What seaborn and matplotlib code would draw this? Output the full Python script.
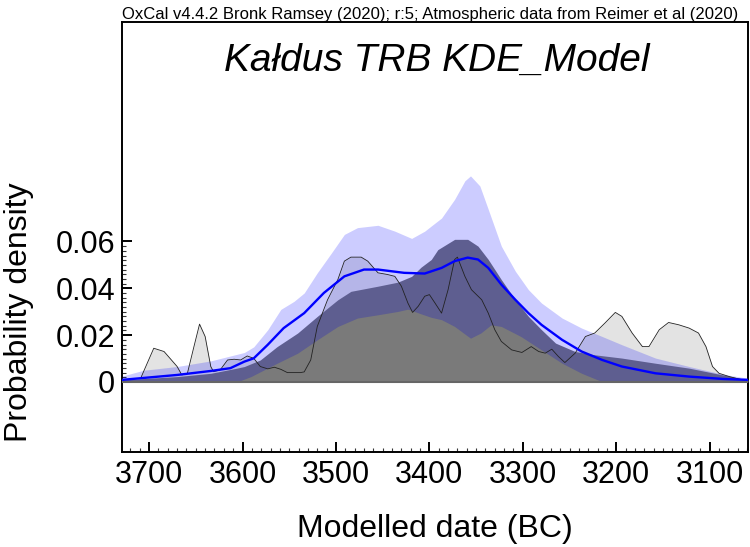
import matplotlib
matplotlib.use("Agg")
import matplotlib.pyplot as plt
from matplotlib import font_manager
from matplotlib.ticker import FixedLocator, FuncFormatter
import numpy as np
import pandas as pd
import seaborn as sns

# summed probability (light grey, thin outline)
sum_years = [3729, 3727, 3709, 3695, 3684, 3670, 3665, 3659, 3652, 3646, 3640, 3634,
             3631, 3624, 3616, 3609, 3602, 3595, 3588, 3581, 3573, 3566, 3559, 3552,
             3538, 3534, 3527, 3520, 3509, 3498, 3491, 3484, 3473, 3466, 3455, 3445,
             3437, 3430, 3423, 3418, 3412, 3405, 3400, 3394, 3387, 3380, 3373, 3370,
             3362, 3355, 3344, 3337, 3330, 3323, 3312, 3301, 3291, 3283, 3276, 3269,
             3262, 3255, 3244, 3233, 3223, 3212, 3201, 3194, 3183, 3172, 3165, 3154,
             3144, 3133, 3122, 3112, 3104, 3097, 3090, 3079, 3065, 3059]
sum_vals = [0.0008, 0.0009, 0.0016, 0.0144, 0.0130, 0.0066, 0.0030, 0.0037, 0.0151, 0.0247, 0.0194, 0.0066,
            0.0044, 0.0051, 0.0094, 0.0097, 0.0094, 0.0111, 0.0101, 0.0066, 0.0056, 0.0063, 0.0054, 0.0040,
            0.0040, 0.0043, 0.0094, 0.0237, 0.0351, 0.0437, 0.0516, 0.0533, 0.0533, 0.0516, 0.0466, 0.0459,
            0.0451, 0.0409, 0.0337, 0.0297, 0.0323, 0.0366, 0.0373, 0.0337, 0.0294, 0.0394, 0.0523, 0.0533,
            0.0451, 0.0394, 0.0351, 0.0294, 0.0223, 0.0173, 0.0137, 0.0126, 0.0151, 0.0130, 0.0123, 0.0140,
            0.0109, 0.0083, 0.0123, 0.0194, 0.0209, 0.0252, 0.0297, 0.0280, 0.0209, 0.0151, 0.0151, 0.0223,
            0.0254, 0.0244, 0.0230, 0.0209, 0.0151, 0.0066, 0.0037, 0.0023, 0.0009, 0.0006]

# KDE envelope, upper (light blue)
upper_years = [3729, 3706, 3670, 3634, 3598, 3588, 3573, 3559, 3545, 3534, 3520, 3505, 3491,
               3477, 3455, 3437, 3419, 3405, 3398, 3387, 3373, 3362, 3356, 3346, 3337, 3323,
               3308, 3294, 3280, 3258, 3237, 3215, 3194, 3158, 3122, 3086, 3059]
upper_vals = [0.0025, 0.0050, 0.0066, 0.0090, 0.0126, 0.0150, 0.0223, 0.0310, 0.0344, 0.0380, 0.0466, 0.0550, 0.0630,
              0.0659, 0.0669, 0.0644, 0.0613, 0.0644, 0.0666, 0.0700, 0.0780, 0.0859, 0.0880, 0.0837, 0.0737, 0.0580,
              0.0473, 0.0394, 0.0337, 0.0273, 0.0230, 0.0194, 0.0159, 0.0102, 0.0066, 0.0033, 0.0016]

# KDE envelope, middle (dark blue-grey)
mid_years = [3729, 3670, 3634, 3606, 3598, 3581, 3563, 3541, 3520, 3498, 3484, 3455, 3434,
             3419, 3409, 3398, 3391, 3373, 3359, 3348, 3337, 3323, 3308, 3294, 3280, 3265,
             3244, 3223, 3194, 3158, 3122, 3086, 3059]
mid_vals = [0.0009, 0.0023, 0.0037, 0.0059, 0.0066, 0.0094, 0.0151, 0.0209, 0.0280, 0.0351, 0.0387, 0.0409, 0.0426,
            0.0451, 0.0490, 0.0523, 0.0565, 0.0609, 0.0609, 0.0580, 0.0523, 0.0437, 0.0351, 0.0280, 0.0223, 0.0166,
            0.0130, 0.0116, 0.0102, 0.0080, 0.0059, 0.0030, 0.0009]

# KDE envelope, lower (grey)
low_years = [3606, 3591, 3563, 3541, 3520, 3498, 3477, 3455, 3434, 3423, 3409, 3398,
             3387, 3373, 3356, 3345, 3334, 3323, 3302, 3280, 3258, 3237, 3215, 3208]
low_vals = [0.0, 0.0023, 0.0080, 0.0123, 0.0180, 0.0237, 0.0273, 0.0287, 0.0301, 0.0311, 0.0291, 0.0276,
            0.0266, 0.0237, 0.0187, 0.0209, 0.0244, 0.0237, 0.0194, 0.0137, 0.0080, 0.0037, 0.0001, 0.0]

# KDE mean (blue line)
mean_years = [3729, 3670, 3634, 3613, 3598, 3588, 3573, 3556, 3534, 3513, 3491, 3470, 3455,
              3427, 3405, 3387, 3373, 3359, 3348, 3337, 3323, 3308, 3294, 3280, 3258, 3237,
              3215, 3194, 3158, 3122, 3086, 3059]
mean_vals = [0.0009, 0.0030, 0.0047, 0.0059, 0.0087, 0.0101, 0.0159, 0.0230, 0.0294, 0.0380, 0.0451, 0.0480, 0.0480,
             0.0466, 0.0463, 0.0487, 0.0516, 0.0531, 0.0523, 0.0487, 0.0416, 0.0351, 0.0294, 0.0244, 0.0180, 0.0130,
             0.0094, 0.0066, 0.0037, 0.0023, 0.0013, 0.0009]

y_ticks = [0, 0.02, 0.04, 0.06]
x_ticks = [3700, 3600, 3500, 3400, 3300, 3200, 3100]

sns.set_theme(style="ticks")
plt.rcParams["font.family"] = ["Liberation Sans", "DejaVu Sans"]

fig = plt.figure(figsize=(7.5, 5.47), dpi=100)
ax = fig.add_axes([122 / 750, 95 / 547, 626 / 750, 430 / 547])

ax.fill_between(sum_years, 0, sum_vals, color="#e3e3e3", lw=0, zorder=1)
ax.fill_between(upper_years, 0, upper_vals, color="#0000ff", alpha=0.2, lw=0, zorder=2)
ax.fill_between(mid_years, 0, mid_vals, color="#5e5e90", lw=0, zorder=3)
ax.fill_between(low_years, 0, low_vals, color="#7a7a7a", lw=0, zorder=4)
ax.axhline(0, color="#666666", lw=1.5, zorder=4.5)

sum_df = pd.DataFrame({"year": sum_years, "p": sum_vals})
mean_df = pd.DataFrame({"year": mean_years, "p": mean_vals})
sns.lineplot(data=sum_df, x="year", y="p", ax=ax, color="#222222", lw=0.6, zorder=5)
sns.lineplot(data=mean_df, x="year", y="p", ax=ax, color="#0000ff", lw=1.7, zorder=6)

ax.set_xlim(3729, 3059)
ax.set_ylim(-0.0299, 0.1537)

ax.xaxis.set_major_locator(FixedLocator(x_ticks))
ax.xaxis.set_minor_locator(FixedLocator(np.arange(3720, 3059, -10)))
ax.yaxis.set_major_locator(FixedLocator(y_ticks))
ax.yaxis.set_minor_locator(FixedLocator(np.arange(0, 0.0601, 0.002)))
ax.yaxis.set_major_formatter(FuncFormatter(lambda v, p: "0" if v == 0 else f"{v:.2f}"))

ax.tick_params(which="major", direction="in", length=7.5, width=1.4, labelsize=22,
               color="black", labelcolor="black")
ax.tick_params(which="minor", direction="in", length=3.2, width=0.8, color="#333333")
ax.tick_params(axis="x", which="major", pad=6)
ax.tick_params(axis="y", which="major", pad=5)
for s in ax.spines.values():
    s.set_color("black")
    s.set_linewidth(1.4)

ax.set_xlabel("Modelled date (BC)", fontsize=23, color="black")
ax.set_ylabel("Probability density", fontsize=23, color="black")
ax.xaxis.set_label_coords(0.5, -0.145)
ax.yaxis.set_label_coords(-0.14, 0.325)

ax.text(0.503, 0.886, "Kałdus TRB KDE_Model", transform=ax.transAxes, ha="center",
        va="baseline", fontsize=28, style="italic", color="black")

names = {f.name for f in font_manager.fontManager.ttflist}
if "Liberation Sans Narrow" in names:
    top_font, top_size = ["Liberation Sans Narrow", "DejaVu Sans"], 14.2
else:
    top_font, top_size = ["Liberation Sans", "DejaVu Sans"], 12
fig.text(430 / 750, 1 - 19 / 547,
         "OxCal v4.4.2 Bronk Ramsey (2020); r:5; Atmospheric data from Reimer et al (2020)",
         ha="center", va="baseline", fontsize=top_size, family=top_font, color="black")

fig.savefig("out.png", dpi=100, facecolor="white")
